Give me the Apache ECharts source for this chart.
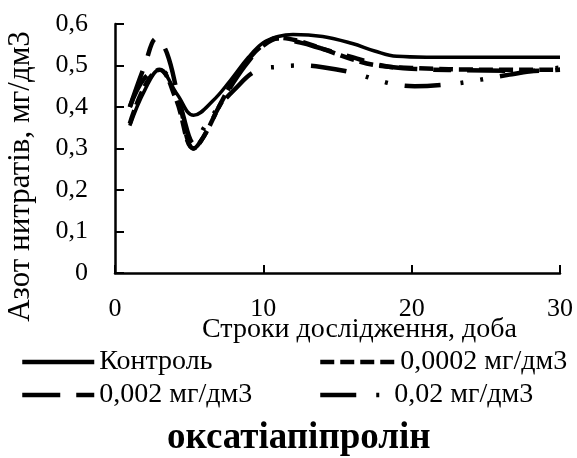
<!DOCTYPE html>
<html><head><meta charset="utf-8">
<script src="https://cdn.jsdelivr.net/npm/echarts@6/dist/echarts.min.js"></script>
<style>html,body{margin:0;padding:0;background:#fff}#c{width:577px;height:458px}</style>
</head><body><div id="c"></div>
<script>
// ---- data (day, nitrate nitrogen mg/dm3) ----
const names = ['Контроль', '0,0002 мг/дм3', '0,002 мг/дм3', '0,02 мг/дм3'];
const control = [[1,0.355],[2,0.44],[3,0.49],[4.2,0.43],[5.3,0.38],[6.6,0.415],[7.8,0.465],[9,0.52],[10,0.555],[11,0.57],[12,0.575],[14,0.57],[16,0.553],[17.5,0.535],[19,0.522],[21,0.52],[25,0.52],[30,0.52]];
const c0002 = [[1,0.36],[2,0.45],[3,0.49],[4.1,0.42],[5.3,0.30],[6,0.33],[7,0.40],[8,0.465],[9,0.515],[10,0.55],[11,0.567],[12.5,0.558],[14,0.54],[16,0.515],[17.7,0.50],[20,0.494],[25,0.49],[30,0.49]];
const c002 = [[1,0.40],[2,0.50],[2.8,0.565],[3.5,0.53],[4.3,0.42],[5.3,0.30],[6,0.33],[7,0.40],[8,0.46],[9,0.51],[10,0.548],[11,0.565],[12.5,0.555],[14,0.54],[16,0.52],[18,0.50],[20,0.492],[25,0.488],[28,0.487],[30,0.49]];
const c02 = [[1,0.40],[2,0.47],[3,0.49],[4.2,0.42],[5.4,0.31],[6,0.35],[7,0.40],[8,0.44],[9.5,0.487],[11,0.497],[12.5,0.50],[14,0.496],[16,0.483],[17.4,0.468],[18.8,0.455],[20.2,0.45],[22.6,0.455],[24,0.462],[25.3,0.47],[26.6,0.478],[28,0.486],[30,0.495]];
const xMin = 0, xMax = 30, xStep = 10;
const yMin = 0, yMax = 0.6, yStep = 0.1;
const xName = 'Строки дослідження, доба';
const yName = 'Азот нитратів, мг/дм3';
const titleText = 'оксатіапіпролін';

// ---- styles ----
const F = 'Liberation Serif, Times New Roman, serif';
const dashes = ['solid', [14, 6], [38, 16, 18, 16], [36, 20, 3, 17, 3, 17]];
const widths = [3.5, 4.5, 4.5, 4.5];
const legendWidths = [4.5, 4.5, 4.5, 4.5];
const datas = [control, c0002, c002, c02];

const series = names.map((n, i) => ({
  name: n, type: 'line', data: datas[i], smooth: 0.4, symbol: 'none', color: '#000',
  itemStyle: { color: '#000' },
  lineStyle: { color: '#000', width: widths[i], type: dashes[i], cap: 'butt' },
  emphasis: { disabled: true }
}));

const legendPos = [
  { left: 20, top: 348, w: 72 },
  { left: 318, top: 348, w: 75 },
  { left: 20, top: 381, w: 72 },
  { left: 318, top: 381, w: 62 }
];
const legends = legendPos.map((p, i) => ({
  data: [names[i]], left: p.left, top: p.top, padding: 0,
  itemWidth: p.w, itemHeight: 10, selectedMode: false,
  formatter: (n) => i === 3 ? ' ' + n : n,
  itemStyle: { opacity: 0, borderWidth: 0, color: 'rgba(0,0,0,0)' },
  lineStyle: { width: legendWidths[i], type: dashes[i], color: '#000', cap: 'butt', opacity: 1 },
  textStyle: { fontFamily: F, fontSize: 28, color: '#000', lineHeight: 28 }
}));

const chart = echarts.init(document.getElementById('c'), null, { renderer: 'canvas' });
chart.setOption({
  animation: false,
  backgroundColor: '#fff',
  title: { text: titleText, left: 167, top: 420, padding: 0,
    textStyle: { fontFamily: F, fontSize: 37, fontWeight: 'bold', color: '#000' } },
  legend: legends,
  grid: { left: 115, right: 17, top: 24, bottom: 185, containLabel: false, outerBoundsMode: 'none' },
  xAxis: {
    type: 'value', min: xMin, max: xMax, interval: xStep,
    name: xName, nameLocation: 'middle', nameGap: 43, nameMoveOverlap: false,
    nameTextStyle: { fontFamily: F, fontSize: 28, color: '#000', padding: [0, 0, 0, 44] },
    axisLine: { lineStyle: { color: '#000', width: 2.5 } },
    axisTick: { inside: true, length: 8, lineStyle: { color: '#000', width: 2 } },
    axisLabel: { fontFamily: F, fontSize: 26, color: '#000', margin: 23 },
    splitLine: { show: false }
  },
  yAxis: {
    type: 'value', min: yMin, max: yMax, interval: yStep,
    name: yName, nameLocation: 'middle', nameGap: 79, nameRotate: 90, nameMoveOverlap: false,
    nameTextStyle: { fontFamily: F, fontSize: 31, color: '#000', padding: [0, 56, 0, 0] },
    axisLine: { show: true, lineStyle: { color: '#000', width: 2.5 } },
    axisTick: { show: true, inside: true, length: 9, lineStyle: { color: '#000', width: 2 } },
    axisLabel: { fontFamily: F, fontSize: 26, color: '#000', margin: 27,
      formatter: (v) => v === 0 ? '0' : v.toFixed(1).replace('.', ',') },
    splitLine: { show: false }
  },
  series: series
});
</script></body></html>
